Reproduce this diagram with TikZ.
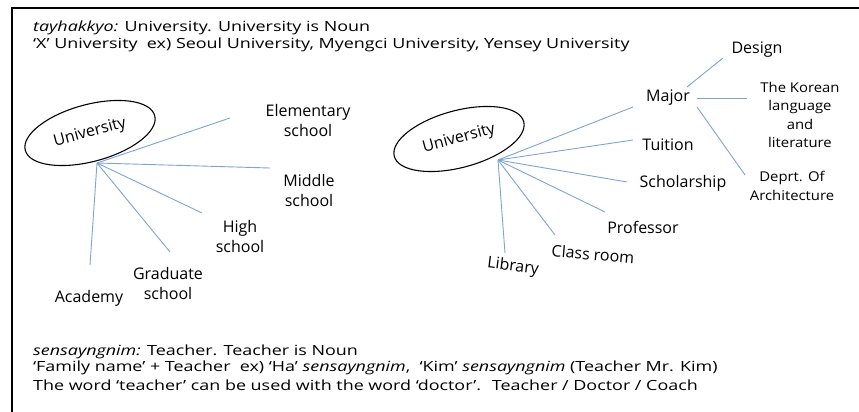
\documentclass[tikz,border=0pt]{standalone}
\usepackage{fontspec}
\setmainfont{Open Sans}
\newfontfamily\widesans{Open Sans}[FakeStretch=1.28]
\newfontfamily\midsans{Open Sans}[FakeStretch=1.1]
\usetikzlibrary{shapes.geometric}
\begin{document}
\begin{tikzpicture}[x=1pt,y=-1pt,
  note/.style={anchor=west, inner sep=0pt, font=\widesans\fontsize{14}{16}\selectfont},
  word/.style={inner sep=1pt, align=center, font=\fontsize{16}{20}\selectfont},
  small/.style={inner sep=1pt, align=center, font=\midsans\fontsize{13.5}{18.5}\selectfont},
  bubble/.style={draw=black, line width=1.1pt, fill=white, ellipse, rotate=15,
     minimum width=134pt, minimum height=57pt, inner sep=0pt,
     font=\fontsize{16}{20}\selectfont},
  branch/.style={draw={rgb,255:red,125;green,165;blue,212}, line width=0.9pt}]
\useasboundingbox (0,0) rectangle (859,412);
\fill[white] (0,0) rectangle (859,412);
% frame along the top and left
\draw[line width=2pt] (859,8) -- (12,8) -- (12,412);

% heading notes
\node[note] (n1) at (33,28) {\textit{tayhakkyo:} University. University is Noun};
\node[note] (n2) at (33,45) {‘X’ University \ ex) Seoul University, Myengci University, Yensey University};

% ---------- left tree ----------
\coordinate (hubL) at (97,163);
\node[word] (elem) at (308,120) {Elementary\\school};
\node[word] (mid)  at (309,190) {Middle\\school};
\node[word] (high) at (240,236) {High\\school};
\node[word] (grad) at (168,283) {Graduate\\school};
\node[word] (acad) at (89,298) {Academy};
\coordinate (eElem) at (230,118);
\coordinate (eMid)  at (270,168);
\coordinate (eHigh) at (202,213);
\coordinate (eGrad) at (170,252);
\coordinate (eAcad) at (90,265);
\foreach \e in {eElem,eMid,eHigh,eGrad,eAcad} \draw[branch] (hubL) -- (\e);
\node[bubble] (uniL) at (90,133) {University};

% ---------- right tree ----------
\coordinate (hubR) at (498,160);
\node[word] (major) at (668,98)  {Major};
\node[word] (tuit)  at (668,145) {Tuition};
\node[word] (schol) at (683,183) {Scholarship};
\node[word] (prof)  at (643,227) {Professor};
\node[word, rotate=-5] (class) at (593,254) {Class room};
\node[word, rotate=-7] (lib)   at (513,267) {Library};
\coordinate (eMajor) at (633,107);
\coordinate (eTuit)  at (633,140);
\coordinate (eSchol) at (627,182);
\coordinate (eProf)  at (605,212);
\coordinate (eClass) at (555,235);
\coordinate (eLib)   at (505,253);
\foreach \e in {eMajor,eTuit,eSchol,eProf,eClass,eLib} \draw[branch] (hubR) -- (\e);
\node[bubble] (uniR) at (459,139) {University};

% majors
\node[word] (design) at (757,50) {Design};
\node[small] (korean) at (800,115) {The Korean\\language\\and\\literature};
\node[small] (arch) at (792,186) {Deprt. Of\\Architecture};
\coordinate (sDesign) at (687,87);
\coordinate (eDesign) at (723,58);
\coordinate (sKorean) at (697,98);
\coordinate (eKorean) at (747,98);
\coordinate (sArch) at (697,107);
\coordinate (eArch) at (745,175);
\draw[branch] (sDesign) -- (eDesign);
\draw[branch] (sKorean) -- (eKorean);
\draw[branch] (sArch) -- (eArch);

% closing notes
\node[note] (f1) at (33,352) {\textit{sensayngnim:} Teacher. Teacher is Noun};
\node[note] (f2) at (33,368) {‘Family name’ + Teacher \ ex) ‘Ha’ \textit{sensayngnim}, \ ‘Kim’ \textit{sensayngnim} (Teacher Mr. Kim)};
\node[note] (f3) at (33,385) {The word ‘teacher’ can be used with the word ‘doctor’. \ Teacher / Doctor / Coach};
\end{tikzpicture}
\end{document}
